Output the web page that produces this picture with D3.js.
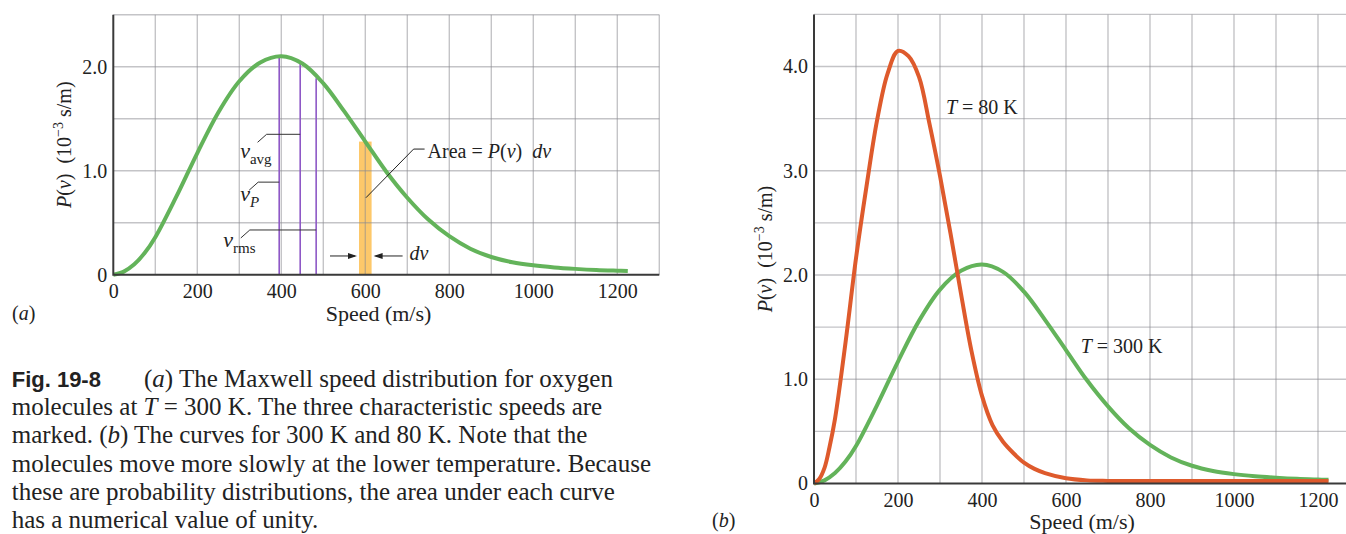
<!DOCTYPE html>
<html><head><meta charset="utf-8">
<script src="https://cdn.jsdelivr.net/npm/d3@7"></script>
<style>
body{margin:0;background:#fff;}
svg{display:block;}
</style>
</head><body>
<svg id="c" width="1346" height="534"></svg>
<script>
// ---------------- data ----------------
const xTickValues = [0, 200, 400, 600, 800, 1000, 1200];
const xTickLabels = ["0", "200", "400", "600", "800", "1000", "1200"];
const yTickValuesA = [0, 1, 2];
const yTickLabelsA = ["0", "1.0", "2.0"];
const yTickValuesB = [0, 1, 2, 3, 4];
const yTickLabelsB = ["0", "1.0", "2.0", "3.0", "4.0"];

// T = 300 K curve (speed m/s, P in 1e-3 s/m)
const speeds300 = [0, 25, 50, 75, 100, 150, 200, 250, 300, 350, 400, 450, 500, 550, 600, 650, 700, 750, 800, 850, 900, 950, 1000, 1050, 1100, 1150, 1200, 1225];
const prob300   = [0, 0.03, 0.10, 0.21, 0.36, 0.75, 1.17, 1.56, 1.86, 2.04, 2.10, 2.03, 1.84, 1.57, 1.28, 0.99, 0.74, 0.53, 0.37, 0.25, 0.17, 0.12, 0.09, 0.07, 0.056, 0.045, 0.038, 0.035];

// T = 80 K curve
const speeds80 = [0, 12, 25, 37, 50, 75, 100, 125, 150, 175, 200, 225, 250, 275, 300, 325, 350, 375, 400, 425, 450, 475, 500, 525, 550, 600, 650, 700, 1225];
const prob80   = [0, 0.04, 0.15, 0.35, 0.62, 1.35, 2.16, 2.85, 3.48, 3.93, 4.15, 4.10, 3.90, 3.45, 2.95, 2.40, 1.82, 1.27, 0.84, 0.56, 0.40, 0.29, 0.20, 0.14, 0.10, 0.05, 0.03, 0.025, 0.025];

// characteristic speeds (panel a)
const charNames   = ["avg", "P", "rms"];
const charSpeeds  = [445, 395, 483];
const charHeights = [2.045, 2.10, 1.89];

// strip of width dv
const stripSpeeds = [585, 615];
const stripHeight = 1.28;

const captionLines = [
  "molecules at T = 300 K. The three characteristic speeds are",
  "marked. (b) The curves for 300 K and 80 K. Note that the",
  "molecules move more slowly at the lower temperature. Because",
  "these are probability distributions, the area under each curve",
  "has a numerical value of unity."
];

// ---------------- drawing ----------------
const SERIF = "'Liberation Serif', 'Times New Roman', Times, serif";
const svg = d3.select("#c");
const AXIS = "#3a3a3a", GREEN = "#63b35a", RED = "#de5a2c", PURPLE = "#8e58c6", ORANGE = "#fdc86a";

const xA = d3.scaleLinear().domain([0, 1300]).range([113.3, 659.3]);
const yA = d3.scaleLinear().domain([0, 2.5]).range([274.7, 14.7]);
const xB = d3.scaleLinear().domain([0, 1300]).range([814, 1360]);
const yB = d3.scaleLinear().domain([0, 4.5]).range([483.5, 14.4]);

const gA = svg.append("g");
const gB = svg.append("g");

// strip (under grid)
gA.append("rect")
  .attr("x", xA(stripSpeeds[0])).attr("y", yA(stripHeight))
  .attr("width", xA(stripSpeeds[1]) - xA(stripSpeeds[0]))
  .attr("height", yA(0) - yA(stripHeight))
  .attr("fill", ORANGE);

function grid(g, x, y, xMax, yMax, xRight) {
  g.append("g").selectAll("line").data(d3.range(100, xMax + 1, 100)).join("line")
    .attr("x1", d => x(d)).attr("x2", d => x(d))
    .attr("y1", y(0)).attr("y2", y(yMax))
    .attr("stroke", "#8a8a90").attr("stroke-opacity", 0.5).attr("stroke-width", 1.4);
  g.append("g").selectAll("line").data(d3.range(0.5, yMax + 0.01, 0.5)).join("line")
    .attr("x1", x(0)).attr("x2", xRight)
    .attr("y1", d => y(d)).attr("y2", d => y(d))
    .attr("stroke", "#8a8a90").attr("stroke-opacity", 0.5).attr("stroke-width", 1.4);
}
grid(gA, xA, yA, 1300, 2.5, xA(1300));
grid(gB, xB, yB, 1200, 4.5, 1346);

// characteristic speed lines
gA.append("g").selectAll("line").data(charSpeeds).join("line")
  .attr("x1", d => xA(d)).attr("x2", d => xA(d))
  .attr("y1", yA(0)).attr("y2", (d, i) => yA(charHeights[i]))
  .attr("stroke", PURPLE).attr("stroke-width", 1.6);

const line = (x, y) => d3.line().x(d => x(d[0])).y(d => y(d[1])).curve(d3.curveCatmullRom.alpha(0.5));
const pts300 = speeds300.map((v, i) => [v, prob300[i]]);
const pts80 = speeds80.map((v, i) => [v, prob80[i]]);

gA.append("path").attr("d", line(xA, yA)(pts300)).attr("fill", "none")
  .attr("stroke", GREEN).attr("stroke-width", 4);
gB.append("path").attr("d", line(xB, yB)(pts300)).attr("fill", "none")
  .attr("stroke", GREEN).attr("stroke-width", 4);
gB.append("path").attr("d", line(xB, yB)(pts80)).attr("fill", "none")
  .attr("stroke", RED).attr("stroke-width", 4);

// axes lines
gA.append("path").attr("d", `M${xA(0)},${yA(2.5)}V${yA(0)}H${xA(1300)}`)
  .attr("fill", "none").attr("stroke", AXIS).attr("stroke-width", 2);
gB.append("path").attr("d", `M${xB(0)},${yB(4.5)}V${yB(0)}H1346`)
  .attr("fill", "none").attr("stroke", AXIS).attr("stroke-width", 2);

// tick labels via d3 axes
function styleAxis(sel) {
  sel.attr("font-family", null).attr("font-size", null);
  sel.select(".domain").remove();
  sel.selectAll("line").remove();
  sel.selectAll("text").attr("font-size", 20).attr("fill", "#222");
}
gA.append("g").attr("transform", `translate(0,${yA(0)})`)
  .call(d3.axisBottom(xA).tickValues(xTickValues).tickFormat((d, i) => xTickLabels[i]).tickSize(0).tickPadding(9)).call(styleAxis);
gA.append("g").attr("transform", `translate(${xA(0)},0)`)
  .call(d3.axisLeft(yA).tickValues(yTickValuesA).tickFormat((d, i) => yTickLabelsA[i]).tickSize(0).tickPadding(6)).call(styleAxis);
gB.append("g").attr("transform", `translate(0,${yB(0)})`)
  .call(d3.axisBottom(xB).tickValues(xTickValues).tickFormat((d, i) => xTickLabels[i]).tickSize(0).tickPadding(9)).call(styleAxis);
gB.append("g").attr("transform", `translate(${xB(0)},0)`)
  .call(d3.axisLeft(yB).tickValues(yTickValuesB).tickFormat((d, i) => yTickLabelsB[i]).tickSize(0).tickPadding(6)).call(styleAxis);

// panel letters
function panelLetter(x, y, letter) {
  const t = svg.append("text").attr("x", x).attr("y", y).attr("font-size", 20);
  t.append("tspan").text("(");
  t.append("tspan").attr("font-style", "italic").text(letter);
  t.append("tspan").text(")");
}
panelLetter(12, 320, "a");
panelLetter(712, 527, "b");

// characteristic speed leaders and labels
const leaderProb = [1.35, 0.89, 0.43];
const leaderStart = [365, 345, 325];
const labelPos = [[302, 1.122], [302, 0.704], [262, 0.266]];
charSpeeds.forEach((s, i) => {
  const x0 = xA(leaderStart[i]), y0 = yA(leaderProb[i]);
  gA.append("path").attr("d", `M${x0 - 9},${y0 + 8}L${x0},${y0}H${xA(s)}`)
    .attr("fill", "none").attr("stroke", "#333").attr("stroke-width", 1);
  const t = gA.append("text").attr("x", xA(labelPos[i][0])).attr("y", yA(labelPos[i][1]))
    .attr("font-size", 22);
  t.append("tspan").attr("font-style", "italic").text("v");
  const sub = t.append("tspan").attr("font-size", 15).attr("dy", 6).text(charNames[i]);
  if (charNames[i] === "P") sub.attr("font-style", "italic");
});

// Area annotation
{
  const xs = xA((stripSpeeds[0] + stripSpeeds[1]) / 2 + 1.5), ys = yA(0.74);
  const xe = xA(715), ye = yA(1.208);
  gA.append("path").attr("d", `M${xs},${ys}L${xe},${ye}H${xe + 11}`)
    .attr("fill", "none").attr("stroke", "#222").attr("stroke-width", 1);
  const t = gA.append("text").attr("x", xe + 14).attr("y", ye + 9).attr("font-size", 20);
  t.append("tspan").text("Area = ");
  t.append("tspan").attr("font-style", "italic").text("P");
  t.append("tspan").text("(");
  t.append("tspan").attr("font-style", "italic").text("v");
  t.append("tspan").text(")\u00a0\u00a0");
  t.append("tspan").attr("font-style", "italic").text("dv");

  // dv arrows
  const ya = yA(0.18);
  const l = xA(stripSpeeds[0]), r = xA(stripSpeeds[1]);
  gA.append("line").attr("x1", l - 29).attr("x2", l - 4).attr("y1", ya).attr("y2", ya).attr("stroke", "#222").attr("stroke-width", 1);
  gA.append("path").attr("d", `M${l - 2},${ya}L${l - 11},${ya - 3}L${l - 11},${ya + 3}Z`).attr("fill", "#222");
  gA.append("line").attr("x1", r + 4).attr("x2", r + 31).attr("y1", ya).attr("y2", ya).attr("stroke", "#222").attr("stroke-width", 1);
  gA.append("path").attr("d", `M${r + 2},${ya}L${r + 11},${ya - 3}L${r + 11},${ya + 3}Z`).attr("fill", "#222");
  gA.append("text").attr("x", r + 38).attr("y", ya + 4.5).attr("font-size", 20)
    .attr("font-style", "italic").text("dv");
}

// temperature labels
function tempLabel(v, p, temp) {
  const t = gB.append("text").attr("x", xB(v)).attr("y", yB(p)).attr("font-size", 20);
  t.append("tspan").attr("font-style", "italic").text("T");
  t.append("tspan").text(" = " + temp + " K");
}
tempLabel(314, 3.544, "80");
tempLabel(635, 1.249, "300");

// y titles
function yTitle(g, x, cy) {
  const t = g.append("text").attr("transform", `translate(${x},${cy}) rotate(-90)`)
    .attr("text-anchor", "middle").attr("font-size", 20);
  t.append("tspan").attr("font-style", "italic").text("P");
  t.append("tspan").text("(");
  t.append("tspan").attr("font-style", "italic").text("v");
  t.append("tspan").text(")\u00a0\u00a0(10");
  t.append("tspan").attr("font-size", 14).attr("dy", -8).text("\u22123");
  t.append("tspan").attr("dy", 8).text("\u00a0s/m)");
}
yTitle(gA, 71, 144.7);
yTitle(gB, 772, 249);

// x titles
function xTitle(g, cx, y) {
  g.append("text").attr("x", cx).attr("y", y).attr("text-anchor", "middle")
    .attr("font-size", 22).text("Speed (m/s)");
}
xTitle(gA, 378.5, 321);
xTitle(gB, 1082, 529);

// all chart text serif
svg.selectAll("text").style("font-family", SERIF).style("fill", "#222");

// caption
{
  const base = [386.7, 415, 443.3, 471.7, 500, 528.3];
  const cap = (x, y) => svg.append("text").attr("x", x).attr("y", y)
    .style("font-family", SERIF).style("font-size", "25px").style("fill", "#222");
  const t0 = cap(144, base[0]);
  t0.append("tspan").text("(");
  t0.append("tspan").style("font-style", "italic").text("a");
  t0.append("tspan").text(") The Maxwell speed distribution for oxygen");

  captionLines.forEach((s, i) => {
    const t = cap(11.7, base[i + 1]);
    if (i === 0) {
      t.append("tspan").text("molecules at ");
      t.append("tspan").style("font-style", "italic").text("T");
      t.append("tspan").text(" = 300 K. The three characteristic speeds are");
    } else if (i === 1) {
      t.append("tspan").text("marked. (");
      t.append("tspan").style("font-style", "italic").text("b");
      t.append("tspan").text(") The curves for 300 K and 80 K. Note that the");
    } else {
      t.text(s);
    }
  });

  svg.append("text").attr("x", 11.7).attr("y", base[0])
    .style("font-size", "22px").style("font-weight", "bold")
    .style("font-family", "'Liberation Sans', Arial, Helvetica, sans-serif").style("fill", "#222")
    .text("Fig. 19-8");
}
</script>
</body></html>
